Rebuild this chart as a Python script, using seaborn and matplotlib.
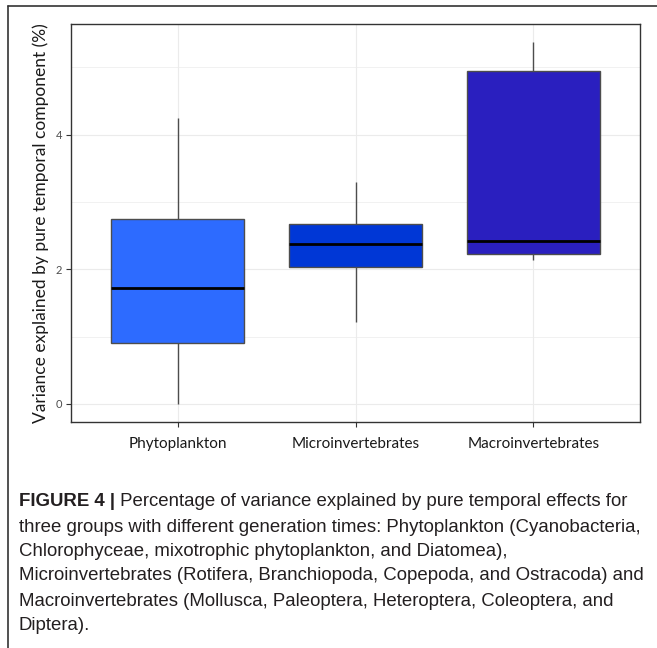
import matplotlib
matplotlib.use("Agg")
import matplotlib.pyplot as plt
import seaborn as sns
import pandas as pd
from matplotlib.lines import Line2D

# five-number summaries: min, Q1, median, Q3, max
groups = ["Phytoplankton", "Microinvertebrates", "Macroinvertebrates"]
phyto = [0.00, 0.90, 1.72, 2.74, 4.25]
micro = [1.22, 2.03, 2.38, 2.67, 3.30]
macro = [2.13, 2.23, 2.42, 4.95, 5.37]
colors = ["#2D6BFF", "#0037D6", "#2A1FBF"]
ylabel = "Variance explained by pure temporal component (%)"
yticks = [0, 2, 4]
caption_bold = "FIGURE 4 |"
caption_lines = [
    " Percentage of variance explained by pure temporal effects for",
    "three groups with different generation times: Phytoplankton (Cyanobacteria,",
    "Chlorophyceae, mixotrophic phytoplankton, and Diatomea),",
    "Microinvertebrates (Rotifera, Branchiopoda, Copepoda, and Ostracoda) and",
    "Macroinvertebrates (Mollusca, Paleoptera, Heteroptera, Coleoptera, and",
    "Diptera).",
]

df = pd.DataFrame({
    "group": [g for g, vals in zip(groups, [phyto, micro, macro]) for _ in vals],
    "value": phyto + micro + macro,
})

sns.set_theme(style="white")
plt.rcParams["font.family"] = ["Lato", "DejaVu Sans"]

fig = plt.figure(figsize=(6.57, 6.48), dpi=100)
ax = fig.add_axes([71 / 657, 1 - 422 / 648, (640 - 71) / 657, (422 - 24.3) / 648])

# ggplot-like grid
for y in [0, 1, 2, 3, 4, 5]:
    ax.axhline(y, color="#ebebeb", lw=0.8 if y % 2 == 0 else 0.5, zorder=0)
for x in range(3):
    ax.axvline(x, color="#ebebeb", lw=0.8, zorder=0)

sns.boxplot(data=df, x="group", y="value", hue="group", palette=colors,
            order=groups, hue_order=groups, width=0.75, whis=1.5,
            showcaps=False, fliersize=0, linecolor="#4d4d4d", linewidth=1.0,
            saturation=1, legend=False,
            medianprops=dict(color="black", linewidth=2),
            whiskerprops=dict(color="#4d4d4d", linewidth=1.0),
            ax=ax, zorder=2)

ax.set_ylim(-0.27, 5.64)
ax.set_xlim(-0.5 - 0.1, 2.5 + 0.1)
ax.set_yticks(yticks)
ax.set_yticklabels([str(t) for t in yticks], fontsize=8, color="#4d4d4d")
ax.set_xticks(range(3))
ax.set_xticklabels(groups, fontsize=11, color="#1a1a1a")
ax.set_xlabel("")
ax.set_ylabel(ylabel, fontsize=12.5, color="#1a1a1a", labelpad=5)
ax.tick_params(axis="both", direction="out", length=3.5, width=0.8,
               color="#333333", left=True, bottom=True, pad=3)
ax.tick_params(axis="x", pad=7)
for s in ax.spines.values():
    s.set_color("#333333")
    s.set_linewidth(1.0)

# figure frame (left and top)
fig.add_artist(Line2D([8 / 657, 8 / 657], [0, 1 - 6 / 648], color="#333333", lw=1.2))
fig.add_artist(Line2D([8 / 657, 1], [1 - 6 / 648, 1 - 6 / 648], color="#333333", lw=1.2))

# caption
cap_font = ["Liberation Sans", "DejaVu Sans"]
cap_size = 13.4
x0 = 19 / 657
line_y = [502, 527, 551, 576, 601, 625]
t = fig.text(x0, 1 - line_y[0] / 648, caption_bold, fontsize=cap_size, fontweight="bold",
             family=cap_font, va="center", ha="left", color="#231f20")
fig.canvas.draw()
bb = t.get_window_extent(renderer=fig.canvas.get_renderer())
x1 = bb.x1 / fig.bbox.width
fig.text(x1, 1 - line_y[0] / 648, caption_lines[0], fontsize=cap_size, family=cap_font,
         va="center", ha="left", color="#231f20")
for yy, line in zip(line_y[1:], caption_lines[1:]):
    fig.text(x0, 1 - yy / 648, line, fontsize=cap_size, family=cap_font,
             va="center", ha="left", color="#231f20")

fig.savefig("out.png", dpi=100)
